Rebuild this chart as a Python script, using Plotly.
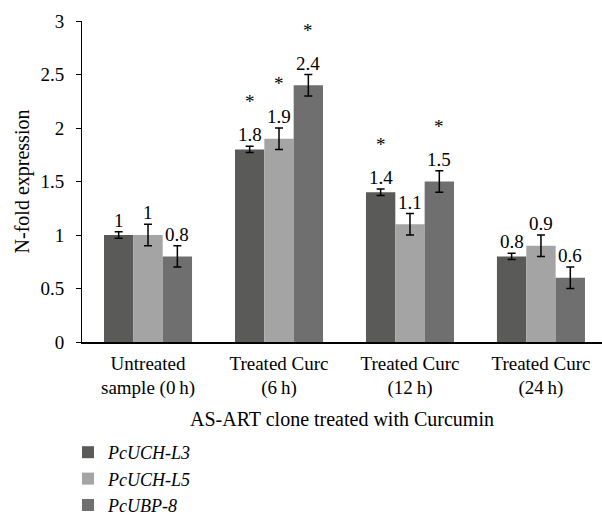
import plotly.graph_objects as go

categories = ["Untreated<br>sample (0\u2009h)", "Treated Curc<br>(6\u2009h)",
              "Treated Curc<br>(12\u2009h)", "Treated Curc<br>(24\u2009h)"]
series_names = ["PcUCH-L3", "PcUCH-L5", "PcUBP-8"]
series_colors = ["#5a5a59", "#a4a4a4", "#6f6f6f"]

uch_l3 = [1.0, 1.8, 1.4, 0.8]
uch_l5 = [1.0, 1.9, 1.1, 0.9]
ubp_8 = [0.8, 2.4, 1.5, 0.6]

uch_l3_err = [0.03, 0.03, 0.03, 0.03]
uch_l5_err = [0.1, 0.1, 0.1, 0.1]
ubp_8_err = [0.1, 0.1, 0.1, 0.1]

uch_l3_sig = [False, True, True, False]
uch_l5_sig = [False, True, False, False]
ubp_8_sig = [False, True, True, False]

label_text = [["1", "1.8", "1.4", "0.8"],
              ["1", "1.9", "1.1", "0.9"],
              ["0.8", "2.4", "1.5", "0.6"]]

y_ticks = [0, 0.5, 1, 1.5, 2, 2.5, 3]
y_ticktext = ["0", "0.5", "1", "1.5", "2", "2.5", "3"]

values = [uch_l3, uch_l5, ubp_8]
errors = [uch_l3_err, uch_l5_err, ubp_8_err]
sigs = [uch_l3_sig, uch_l5_sig, ubp_8_sig]

FONT = "Liberation Serif"
BARGAP = 0.328
xs = list(range(len(categories)))

fig = go.Figure()
for name, col, v, e in zip(series_names, series_colors, values, errors):
    fig.add_trace(go.Bar(
        x=xs, y=v, name="<i>" + name + "</i>",
        marker=dict(color=col, line=dict(width=0)),
        error_y=dict(type="data", array=e, visible=True, color="black",
                     thickness=1.5, width=4),
    ))

n = len(series_names)
bw = (1 - BARGAP) / n
annotations = []
for si in range(n):
    off = (si - (n - 1) / 2) * bw
    for ci in xs:
        top = values[si][ci] + errors[si][ci]
        annotations.append(dict(
            x=ci + off, y=top, xref="x", yref="y", text=label_text[si][ci],
            showarrow=False, yanchor="bottom", yshift=-1,
            font=dict(family=FONT, size=19, color="black")))
        if sigs[si][ci]:
            annotations.append(dict(
                x=ci + off, y=top, xref="x", yref="y", text="*",
                showarrow=False, yanchor="bottom", yshift=32,
                font=dict(family=FONT, size=19, color="black")))

PLOT_H = 515 - 21 - 173
PLOT_W = 602 - 82

fig.update_layout(
    width=602, height=515,
    margin=dict(l=82, r=0, t=21, b=173, autoexpand=False),
    paper_bgcolor="white", plot_bgcolor="white",
    barmode="group", bargap=BARGAP, bargroupgap=0,
    font=dict(family=FONT, size=19, color="black"),
    showlegend=True,
    legend=dict(orientation="v",
                x=(68 - 82) / PLOT_W, xanchor="left",
                y=-(434 - 342) / PLOT_H, yanchor="top",
                font=dict(family=FONT, size=18, color="black"),
                bgcolor="rgba(0,0,0,0)", tracegroupgap=0),
    annotations=annotations,
    xaxis=dict(
        tickmode="array", tickvals=xs, ticktext=categories, tickangle=0,
        range=[-0.504, 3.466], showline=True, linecolor="black", linewidth=1.5,
        ticks="", showgrid=False, zeroline=False,
        tickfont=dict(family=FONT, size=19, color="black"),
        ticklabelstandoff=3,
        title=dict(text="AS-ART clone treated with Curcumin",
                   font=dict(family=FONT, size=20, color="black"), standoff=14),
    ),
    yaxis=dict(
        tickmode="array", tickvals=y_ticks, ticktext=y_ticktext,
        range=[0, 3], showline=True, linecolor="black", linewidth=1,
        ticks="outside", ticklen=5, tickcolor="black", showgrid=False, zeroline=False,
        tickfont=dict(family=FONT, size=19, color="black"),
        ticklabelstandoff=8,
        title=dict(text="N-fold expression",
                   font=dict(family=FONT, size=20, color="black"), standoff=5),
    ),
)

fig.write_html("out.html", config={"displayModeBar": False},
               post_script="document.body.style.margin='0';document.body.style.padding='0';")
